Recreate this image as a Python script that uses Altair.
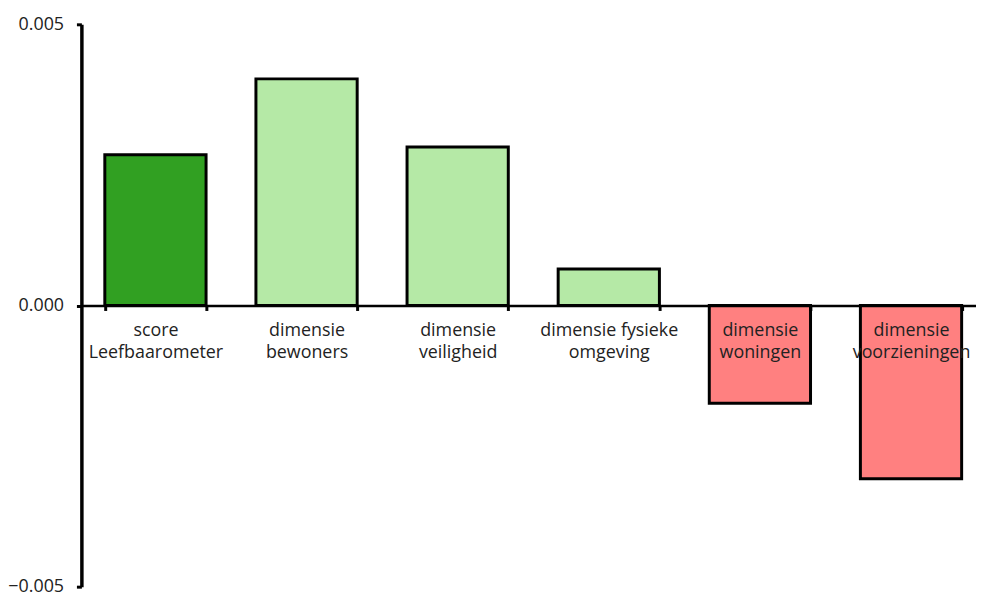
import altair as alt
import pandas as pd

categories = [
    "score|Leefbaarometer",
    "dimensie|bewoners",
    "dimensie|veiligheid",
    "dimensie fysieke|omgeving",
    "dimensie|woningen",
    "dimensie|voorzieningen",
]
values = [0.00268, 0.00403, 0.00282, 0.00065, -0.00174, -0.00308]
colors = ["#31A022", "#B5E9A6", "#B5E9A6", "#B5E9A6", "#FF8080", "#FF8080"]

df = pd.DataFrame({"cat": categories, "value": values, "color": colors})

font = "Open Sans"

chart = alt.Chart(df).mark_bar(stroke="black", strokeWidth=3).encode(
    x=alt.X(
        "cat:N",
        sort=categories,
        scale=alt.Scale(paddingInner=0.33, paddingOuter=0.125, align=0.62),
        axis=alt.Axis(
            title=None,
            orient="bottom",
            offset=-283.5,
            domainColor="black",
            domainWidth=2.5,
            tickColor="black",
            tickWidth=3,
            tickSize=5,
            tickBand="extent",
            labelAngle=0,
            labelFont=font,
            labelFontSize=18,
            labelColor="#222222",
            labelLineHeight=22.5,
            labelPadding=11,
            labelBaseline="top",
            labelExpr="isValid(datum.value) ? split(datum.value, '|') : ''",
            zindex=1,
        ),
    ),
    y=alt.Y(
        "value:Q",
        scale=alt.Scale(domain=[-0.005, 0.005], nice=False, zero=False),
        axis=alt.Axis(
            title=None,
            values=[-0.005, 0.0, 0.005],
            format=".3f",
            grid=False,
            domainColor="black",
            domainWidth=3.5,
            tickColor="black",
            tickWidth=3,
            tickSize=5,
            labelFont=font,
            labelFontSize=18,
            labelColor="#222222",
            labelPadding=13,
            zindex=1,
        ),
    ),
    fill=alt.Fill("color:N", scale=None),
).properties(
    width=902,
    height=567,
    padding={"left": 74, "top": 14, "right": 0, "bottom": 12},
    autosize=alt.AutoSizeParams(type="none"),
).configure_view(stroke=None)

chart.save("out.html", embed_options={"renderer": "svg", "actions": False})
